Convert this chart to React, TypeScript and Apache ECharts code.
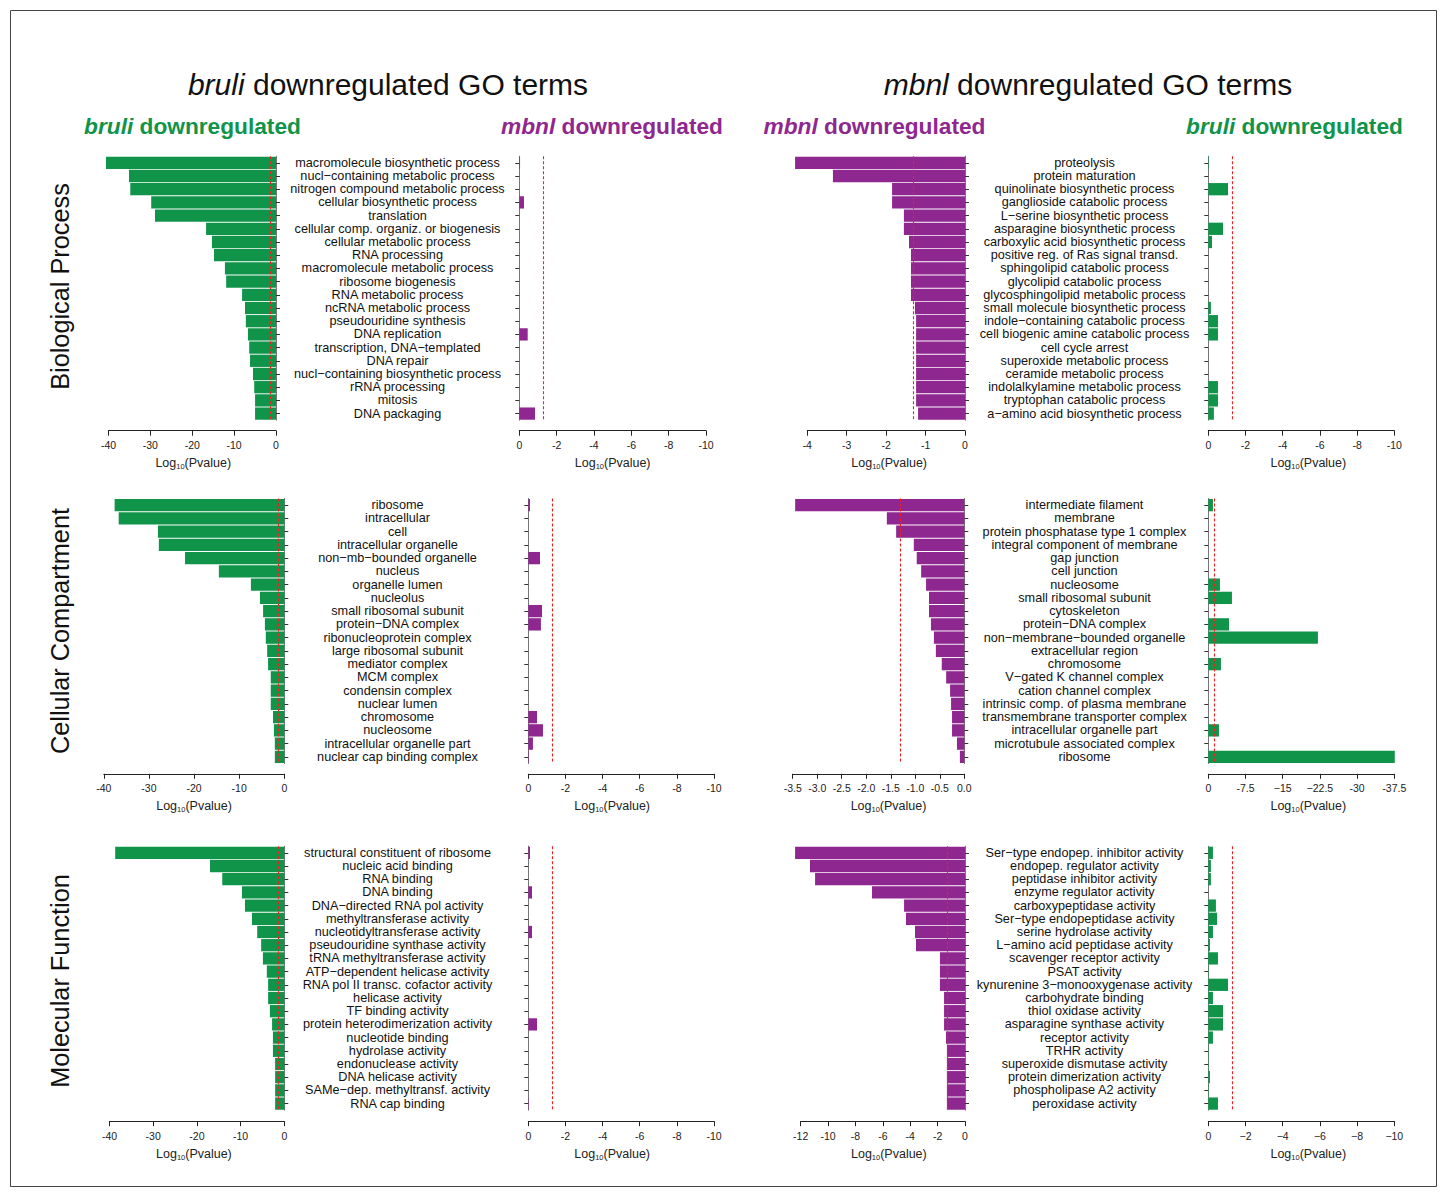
import React, { useEffect, useRef } from 'react';
import * as echarts from 'echarts';

const GREEN = '#10944a';
const PURPLE = '#8e278f';
const RED = '#f02020';
const FONT = '"Liberation Sans", Arial, Helvetica, sans-serif';
const THRESHOLD = -1.3;

// ---------- categories ----------
const bpBruliTerms = [
  'macromolecule biosynthetic process', 'nucl−containing metabolic process', 'nitrogen compound metabolic process',
  'cellular biosynthetic process', 'translation', 'cellular comp. organiz. or biogenesis', 'cellular metabolic process',
  'RNA processing', 'macromolecule metabolic process', 'ribosome biogenesis', 'RNA metabolic process',
  'ncRNA metabolic process', 'pseudouridine synthesis', 'DNA replication', 'transcription, DNA−templated',
  'DNA repair', 'nucl−containing biosynthetic process', 'rRNA processing', 'mitosis', 'DNA packaging',
];
const bpMbnlTerms = [
  'proteolysis', 'protein maturation', 'quinolinate biosynthetic process', 'ganglioside catabolic process',
  'L−serine biosynthetic process', 'asparagine biosynthetic process', 'carboxylic acid biosynthetic process',
  'positive reg. of Ras signal transd.', 'sphingolipid catabolic process', 'glycolipid catabolic process',
  'glycosphingolipid metabolic process', 'small molecule biosynthetic process', 'indole−containing catabolic process',
  'cell biogenic amine catabolic process', 'cell cycle arrest', 'superoxide metabolic process',
  'ceramide metabolic process', 'indolalkylamine metabolic process', 'tryptophan catabolic process',
  'a−amino acid biosynthetic process',
];
const ccBruliTerms = [
  'ribosome', 'intracellular', 'cell', 'intracellular organelle', 'non−mb−bounded organelle', 'nucleus',
  'organelle lumen', 'nucleolus', 'small ribosomal subunit', 'protein−DNA complex', 'ribonucleoprotein complex',
  'large ribosomal subunit', 'mediator complex', 'MCM complex', 'condensin complex', 'nuclear lumen',
  'chromosome', 'nucleosome', 'intracellular organelle part', 'nuclear cap binding complex',
];
const ccMbnlTerms = [
  'intermediate filament', 'membrane', 'protein phosphatase type 1 complex', 'integral component of membrane',
  'gap junction', 'cell junction', 'nucleosome', 'small ribosomal subunit', 'cytoskeleton', 'protein−DNA complex',
  'non−membrane−bounded organelle', 'extracellular region', 'chromosome', 'V−gated K channel complex',
  'cation channel complex', 'intrinsic comp. of plasma membrane', 'transmembrane transporter complex',
  'intracellular organelle part', 'microtubule associated complex', 'ribosome',
];
const mfBruliTerms = [
  'structural constituent of ribosome', 'nucleic acid binding', 'RNA binding', 'DNA binding',
  'DNA−directed RNA pol activity', 'methyltransferase activity', 'nucleotidyltransferase activity',
  'pseudouridine synthase activity', 'tRNA methyltransferase activity', 'ATP−dependent helicase activity',
  'RNA pol II transc. cofactor activity', 'helicase activity', 'TF binding activity',
  'protein heterodimerization activity', 'nucleotide binding', 'hydrolase activity', 'endonuclease activity',
  'DNA helicase activity', 'SAMe−dep. methyltransf. activity', 'RNA cap binding',
];
const mfMbnlTerms = [
  'Ser−type endopep. inhibitor activity', 'endopep. regulator activity', 'peptidase inhibitor activity',
  'enzyme regulator activity', 'carboxypeptidase activity', 'Ser−type endopeptidase activity',
  'serine hydrolase activity', 'L−amino acid peptidase activity', 'scavenger receptor activity', 'PSAT activity',
  'kynurenine 3−monooxygenase activity', 'carbohydrate binding', 'thiol oxidase activity',
  'asparagine synthase activity', 'receptor activity', 'TRHR activity', 'superoxide dismutase activity',
  'protein dimerization activity', 'phospholipase A2 activity', 'peroxidase activity',
];

// ---------- values: log10(P) ----------
const bpBruliBruli = [-40.6, -35.1, -34.8, -29.8, -28.9, -16.7, -15.3, -14.8, -12.2, -11.9, -8.1, -7.4, -7.2, -6.7, -6.4, -6.2, -5.5, -5.2, -5.0, -5.0];
const bpBruliMbnl = [-0.04, 0, 0, -0.25, 0, 0, 0, 0, 0, 0, 0, 0, 0, -0.45, 0, 0, 0, 0, 0, -0.84];
const bpMbnlMbnl = [-4.31, -3.35, -1.85, -1.85, -1.55, -1.55, -1.42, -1.37, -1.37, -1.37, -1.37, -1.27, -1.24, -1.24, -1.24, -1.24, -1.24, -1.24, -1.24, -1.19];
const bpMbnlBruli = [-0.03, 0, -1.06, 0, 0, -0.79, -0.2, 0, 0, 0, 0, -0.14, -0.52, -0.52, 0, 0, 0, -0.52, -0.52, -0.3];

const ccBruliBruli = [-37.6, -36.7, -28.0, -27.8, -22.0, -14.5, -7.4, -5.4, -4.7, -4.3, -4.1, -3.8, -3.6, -3.0, -3.0, -3.0, -2.5, -2.3, -2.1, -2.1];
const ccBruliMbnl = [-0.09, 0, 0, 0, -0.63, 0, 0, 0, -0.74, -0.68, 0, 0, 0, 0, 0, 0, -0.47, -0.79, -0.25, -0.03];
const ccMbnlMbnl = [-3.45, -1.58, -1.39, -1.03, -0.97, -0.88, -0.78, -0.72, -0.72, -0.68, -0.62, -0.58, -0.46, -0.37, -0.29, -0.27, -0.25, -0.25, -0.15, -0.09];
const ccMbnlBruli = [-0.94, 0, 0, 0, 0, 0, -2.35, -4.77, 0, -4.17, -22.1, 0, -2.55, 0, 0, 0, 0, -2.15, 0, -37.6];

const mfBruliBruli = [-38.7, -17.0, -14.2, -9.7, -9.0, -7.4, -6.2, -5.3, -4.9, -4.0, -3.7, -3.7, -3.3, -2.8, -2.6, -2.6, -2.1, -2.1, -2.1, -2.1];
const mfBruliMbnl = [-0.09, 0, 0, -0.2, 0, 0, -0.2, 0, 0, 0, 0, 0, 0, -0.47, 0, 0, 0, 0, 0, -0.02];
const mfMbnlMbnl = [-12.41, -11.32, -10.95, -6.79, -4.45, -4.31, -3.65, -3.58, -1.83, -1.83, -1.83, -1.53, -1.53, -1.53, -1.39, -1.32, -1.32, -1.32, -1.32, -1.32];
const mfMbnlBruli = [-0.25, -0.14, -0.14, 0, -0.41, -0.47, -0.25, -0.09, -0.52, -0.02, -1.06, -0.25, -0.79, -0.79, -0.25, -0.02, -0.02, -0.09, -0.02, -0.52];

// ---------- tick labels (ascending from axis min) ----------
const ticks40 = ['-40', '-30', '-20', '-10', '0'];
const ticks10 = ['-10', '-8', '-6', '-4', '-2', '0'];
const ticks10u = ['−10', '−8', '−6', '−4', '−2', '0'];
const ticks4 = ['-4', '-3', '-2', '-1', '0'];
const ticks35 = ['-3.5', '-3.0', '-2.5', '-2.0', '-1.5', '-1.0', '-0.5', '0.0'];
const ticks375 = ['-37.5', '-30', '−22.5', '−15', '-7.5', '0'];
const ticks12 = ['-12', '-10', '-8', '-6', '-4', '-2', '0'];

const rowLabels = ['Biological Process', 'Cellular Compartment', 'Molecular Function'];

// ---------- layout ----------
const ROWS = [
  { top: 156.2, height: 264, offset: 10.5 },
  { top: 498.5, height: 265, offset: 10.3 },
  { top: 846.2, height: 264, offset: 11 },
];

type Panel = {
  row: number; left: number; width: number; cats: string[]; values: number[]; color: string;
  dir: 'left' | 'right'; min: number; interval: number; ticks: string[]; labelMargin?: number; nameShift: number;
};

const panels: Panel[] = [
  { row: 0, left: 108.5, width: 167.5, cats: bpBruliTerms, values: bpBruliBruli, color: GREEN, dir: 'left', min: -40, interval: 10, ticks: ticks40, labelMargin: 121.5, nameShift: 1 },
  { row: 0, left: 519.3, width: 186.7, cats: bpBruliTerms, values: bpBruliMbnl, color: PURPLE, dir: 'right', min: -10, interval: 2, ticks: ticks10, nameShift: 0 },
  { row: 0, left: 807.3, width: 157.7, cats: bpMbnlTerms, values: bpMbnlMbnl, color: PURPLE, dir: 'left', min: -4, interval: 1, ticks: ticks4, labelMargin: 119.5, nameShift: 3 },
  { row: 0, left: 1208.3, width: 186, cats: bpMbnlTerms, values: bpMbnlBruli, color: GREEN, dir: 'right', min: -10, interval: 2, ticks: ticks10, nameShift: 7 },

  { row: 1, left: 103.8, width: 180.5, cats: ccBruliTerms, values: ccBruliBruli, color: GREEN, dir: 'left', min: -40, interval: 10, ticks: ticks40, labelMargin: 113.2, nameShift: 0 },
  { row: 1, left: 528.3, width: 185.7, cats: ccBruliTerms, values: ccBruliMbnl, color: PURPLE, dir: 'right', min: -10, interval: 2, ticks: ticks10, nameShift: -9 },
  { row: 1, left: 792.7, width: 171.6, cats: ccMbnlTerms, values: ccMbnlMbnl, color: PURPLE, dir: 'left', min: -3.5, interval: 0.5, ticks: ticks35, labelMargin: 120.2, nameShift: 10 },
  { row: 1, left: 1208.3, width: 186, cats: ccMbnlTerms, values: ccMbnlBruli, color: GREEN, dir: 'right', min: -37.5, interval: 7.5, ticks: ticks375, nameShift: 7 },

  { row: 2, left: 109.5, width: 174.8, cats: mfBruliTerms, values: mfBruliBruli, color: GREEN, dir: 'left', min: -40, interval: 10, ticks: ticks40, labelMargin: 113.2, nameShift: -3 },
  { row: 2, left: 528.3, width: 185.7, cats: mfBruliTerms, values: mfBruliMbnl, color: PURPLE, dir: 'right', min: -10, interval: 2, ticks: ticks10, nameShift: -9 },
  { row: 2, left: 800.7, width: 164.3, cats: mfMbnlTerms, values: mfMbnlMbnl, color: PURPLE, dir: 'left', min: -12, interval: 2, ticks: ticks12, labelMargin: 119.5, nameShift: 6 },
  { row: 2, left: 1208.3, width: 186, cats: mfMbnlTerms, values: mfMbnlBruli, color: GREEN, dir: 'right', min: -10, interval: 2, ticks: ticks10u, nameShift: 7 },
];

function buildOption() {
  const grid: any[] = [];
  const xAxis: any[] = [];
  const yAxis: any[] = [];
  const series: any[] = [];
  panels.forEach((p, i) => {
    const r = ROWS[p.row];
    grid.push({ left: p.left, top: r.top, width: p.width, height: r.height, containLabel: false });
    const shift = p.nameShift;
    xAxis.push({
      type: 'value', gridIndex: i, min: p.min, max: 0, interval: p.interval,
      inverse: p.dir === 'right', offset: r.offset, position: 'bottom',
      axisLine: { show: true, onZero: false, lineStyle: { color: '#222', width: 1 } },
      axisTick: { show: true, length: 5, lineStyle: { color: '#222', width: 1 } },
      axisLabel: {
        fontSize: 10.5, fontFamily: FONT, color: '#222', margin: 9,
        formatter: (v: number) => p.ticks[Math.round((v - p.min) / p.interval)] ?? String(v),
      },
      splitLine: { show: false },
      name: '{a|Log}{b|10}{a|(Pvalue)}', nameLocation: 'middle', nameGap: 24.5,
      nameTextStyle: {
        padding: shift >= 0 ? [0, 0, 0, 2 * shift] : [0, -2 * shift, 0, 0],
        rich: {
          a: { fontSize: 12.5, fontFamily: FONT, color: '#222', lineHeight: 16 },
          b: { fontSize: 7.5, fontFamily: FONT, color: '#222', lineHeight: 16, padding: [7, 0, 0, 0] },
        },
      },
    });
    yAxis.push({
      type: 'category', gridIndex: i, data: p.cats, inverse: true,
      position: p.dir === 'left' ? 'right' : 'left',
      axisLine: { show: true, onZero: false, lineStyle: { color: '#777', width: 1 } },
      axisTick: { show: true, alignWithLabel: true, length: 4, interval: 0, lineStyle: { color: '#333', width: 1 } },
      axisLabel: p.labelMargin
        ? { show: true, interval: 0, align: 'center', margin: p.labelMargin, fontSize: 12.7, fontFamily: FONT, color: '#111', padding: [0, 0, 2, 0] }
        : { show: false },
      splitLine: { show: false },
    });
    series.push({
      type: 'bar', xAxisIndex: i, yAxisIndex: i, data: p.values, clip: false,
      barCategoryGap: '7%',
      itemStyle: { color: p.color },
      markLine: {
        silent: true, symbol: 'none', label: { show: false },
        lineStyle: { color: RED, type: [3, 2], width: 1.1 },
        data: [{ xAxis: THRESHOLD }],
      },
    });
  });

  const titleRich = (size: number, color: string, bold: boolean) => ({
    i: { fontStyle: 'italic', fontWeight: bold ? 'bold' : 'normal', fontSize: size, fontFamily: FONT, fill: color },
    n: { fontWeight: bold ? 'bold' : 'normal', fontSize: size, fontFamily: FONT, fill: color },
  });
  const title = (x: number, y: number, ital: string, rest: string, size: number, color: string, bold: boolean) => ({
    type: 'text', x, y,
    style: { text: `{i|${ital}}{n|${rest}}`, rich: titleRich(size, color, bold), align: 'center', verticalAlign: 'middle' },
  });

  const graphic: any[] = [
    { type: 'rect', shape: { x: 10.5, y: 10.5, width: 1426, height: 1176 }, style: { fill: 'none', stroke: '#444', lineWidth: 1 } },
    title(388, 84, 'bruli', ' downregulated GO terms', 30, '#111', false),
    title(1088, 84, 'mbnl', ' downregulated GO terms', 30, '#111', false),
    title(192.5, 126, 'bruli', ' downregulated', 22.7, GREEN, true),
    title(612, 126, 'mbnl', ' downregulated', 22.7, PURPLE, true),
    title(874.5, 126, 'mbnl', ' downregulated', 22.7, PURPLE, true),
    title(1294.5, 126, 'bruli', ' downregulated', 22.7, GREEN, true),
  ];
  const rowCenters = [286.5, 631, 981];
  rowLabels.forEach((t, k) => {
    graphic.push({
      type: 'text', x: 60, y: rowCenters[k], rotation: Math.PI / 2,
      style: { text: t, fontSize: 25.3, fontFamily: FONT, fill: '#111', align: 'center', verticalAlign: 'middle' },
    });
  });

  return { animation: false, backgroundColor: '#fff', grid, xAxis, yAxis, series, graphic };
}

export default function App() {
  const ref = useRef<HTMLDivElement>(null);
  useEffect(() => {
    if (!ref.current) return;
    const chart = echarts.init(ref.current, undefined, { renderer: 'svg' });
    chart.setOption(buildOption() as any);
    return () => chart.dispose();
  }, []);
  return <div ref={ref} style={{ position: 'fixed', left: 0, top: 0, width: 1447, height: 1197, background: '#fff' }} />;
}
